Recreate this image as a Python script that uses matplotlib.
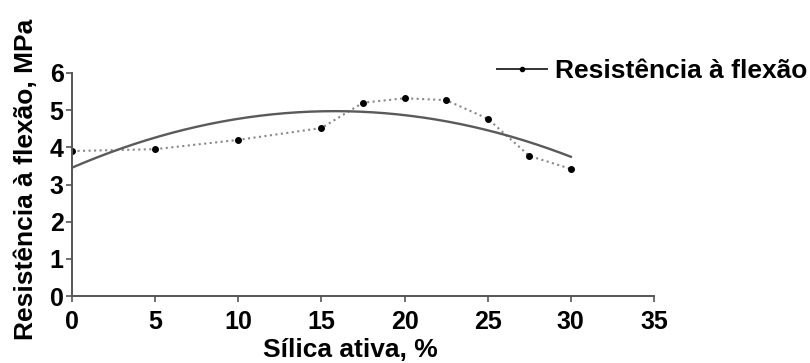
import matplotlib
matplotlib.use("Agg")
import matplotlib.pyplot as plt
import numpy as np
from matplotlib.lines import Line2D

silica = [0, 5, 10, 15, 17.5, 20, 22.5, 25, 27.5, 30]
resistencia = [3.9, 3.95, 4.2, 4.52, 5.2, 5.32, 5.27, 4.77, 3.77, 3.42]
xticks = [0, 5, 10, 15, 20, 25, 30, 35]
yticks = [0, 1, 2, 3, 4, 5, 6]

plt.rcParams['font.family'] = ['Liberation Sans', 'DejaVu Sans']
plt.rcParams['font.weight'] = 'bold'

W, H = 810, 363
fig = plt.figure(figsize=(8.1, 3.63), dpi=100)
x0, x1, y0, y1 = 72, 654, 296, 73
ax = fig.add_axes([x0 / W, 1 - y0 / H, (x1 - x0) / W, (y0 - y1) / H])

ax.plot(silica, resistencia, linestyle=':', color='#888888', lw=1.5,
        marker='o', markersize=4, markerfacecolor='black', markeredgecolor='black')

coef = np.polyfit(silica, resistencia, 2)
xs = np.linspace(min(silica), max(silica), 200)
ax.plot(xs, np.polyval(coef, xs), color='#5a5a5a', lw=1.7)

ax.set_xlim(0, 35)
ax.set_ylim(0, 6)
ax.set_xticks(xticks)
ax.set_yticks(yticks)
for s in ['top', 'right']:
    ax.spines[s].set_visible(False)
for s in ['left', 'bottom']:
    ax.spines[s].set_color('#555555')
    ax.spines[s].set_linewidth(1.4)
ax.tick_params(direction='out', length=4, width=1.2, color='#555555')
ax.tick_params(axis='x', pad=6)
ax.tick_params(axis='y', pad=2)
tick_font = {'family': ['Liberation Sans', 'DejaVu Sans'], 'weight': 'bold', 'size': 18}
ax.set_xticklabels([str(v) for v in xticks], fontdict=tick_font)
ax.set_yticklabels([str(v) for v in yticks], fontdict=tick_font)

ax.set_xlabel('Sílica ativa, %', fontsize=19, fontweight='bold')
ax.xaxis.label.set_va('baseline')
ax.xaxis.set_label_coords((350 - x0) / (x1 - x0), (y0 - 357) / (y0 - y1))

ax.set_ylabel('Resistência à flexão, MPa', fontsize=19, fontweight='bold')
ax.yaxis.label.set_va('center')
ax.yaxis.set_label_coords((26 - x0) / (x1 - x0), (y0 - 179) / (y0 - y1))

handle = Line2D([], [], color='#333333', lw=1.4, marker='o', markersize=3,
                markerfacecolor='black', markeredgecolor='black')
fig.legend([handle], ['Resistência à flexão'], loc='center left',
           bbox_to_anchor=(497 / W, 1 - 71 / H), frameon=False,
           borderpad=0, borderaxespad=0, numpoints=1,
           handlelength=1.9, handletextpad=0.3, prop={'weight': 'bold', 'size': 19})

fig.savefig('out.png', dpi=100)
